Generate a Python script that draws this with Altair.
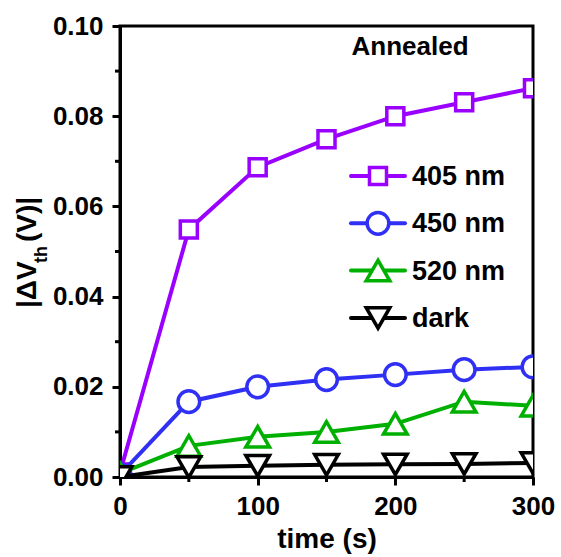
import altair as alt
import pandas as pd

time_s = [0, 50, 100, 150, 200, 250, 300]
v405 = [0.0010, 0.0549, 0.0687, 0.0749, 0.0800, 0.0831, 0.0862]
v450 = [0.0005, 0.0167, 0.0200, 0.0216, 0.0227, 0.0238, 0.0244]
v520 = [0.0008, 0.0069, 0.0089, 0.0100, 0.0118, 0.0167, 0.0158]
vdark = [0.0000, 0.0022, 0.0025, 0.0027, 0.0028, 0.0029, 0.0031]

series_names = ["405 nm", "450 nm", "520 nm", "dark"]
series_vals = [v405, v450, v520, vdark]
series_colors = ["#9900FF", "#3030F5", "#00B000", "#000000"]
series_shapes = ["square", "circle", "triangle-up", "triangle-down"]
series_sizes = [290, 470, 560, 560]

y_ticks = [0.0, 0.02, 0.04, 0.06, 0.08, 0.10]
y_minor = [0.01, 0.03, 0.05, 0.07, 0.09]
x_ticks = [0, 100, 200, 300]
x_minor = [50, 150, 250]

W, H = 413, 451
FONT = "Liberation Sans"

xs = alt.Scale(domain=[0, 300], nice=False, zero=False)
ys = alt.Scale(domain=[0, 0.1], nice=False)

xax = alt.Axis(values=x_ticks, format="d", title="time (s)", titleFontSize=28,
               titlePadding=6, labelPadding=8)
yax = alt.Axis(values=y_ticks, format=".2f", title=None, labelPadding=9)

layers = []
for name, vals, col, shp, sz in zip(series_names, series_vals, series_colors,
                                     series_shapes, series_sizes):
    df = pd.DataFrame({"t": time_s, "v": vals, "s": name})
    base = alt.Chart(df)
    layers.append(base.mark_line(color=col, strokeWidth=4, clip=True).encode(
        x=alt.X("t:Q", scale=xs, axis=xax),
        y=alt.Y("v:Q", scale=ys, axis=yax)))
    layers.append(base.mark_point(shape=shp, size=sz, filled=True, fill="white",
                                  stroke=col, strokeWidth=3.5, opacity=1,
                                  clip=True).encode(
        x=alt.X("t:Q", scale=xs), y=alt.Y("v:Q", scale=ys)))

# minor ticks
ymin_df = pd.DataFrame({"v": y_minor})
layers.append(alt.Chart(ymin_df).mark_rule(color="black", strokeWidth=3).encode(
    y=alt.Y("v:Q", scale=ys), x=alt.value(-5), x2=alt.value(0)))
xmin_df = pd.DataFrame({"t": x_minor})
layers.append(alt.Chart(xmin_df).mark_rule(color="black", strokeWidth=3).encode(
    x=alt.X("t:Q", scale=xs), y=alt.value(H), y2=alt.value(H + 5)))

one = pd.DataFrame({"a": [0]})
# legend
for i, (name, col, shp, sz) in enumerate(zip(series_names, series_colors,
                                             series_shapes, series_sizes)):
    yy = 150 + 47.3 * i
    layers.append(alt.Chart(one).mark_rule(color=col, strokeWidth=4,
                                           strokeCap="round").encode(
        x=alt.value(231), x2=alt.value(285), y=alt.value(yy)))
    layers.append(alt.Chart(one).mark_point(shape=shp, size=sz, filled=True,
                                            fill="white", stroke=col,
                                            strokeWidth=3.5, opacity=1).encode(
        x=alt.value(258), y=alt.value(yy)))
    layers.append(alt.Chart(one).mark_text(text=name, font=FONT, fontWeight="bold",
                                           fontSize=27, align="left",
                                           baseline="middle", color="black").encode(
        x=alt.value(292), y=alt.value(yy + 1)))

# annotation
layers.append(alt.Chart(one).mark_text(text="Annealed", font=FONT, fontWeight="bold",
                                       fontSize=26, align="center",
                                       baseline="alphabetic", color="black").encode(
    x=alt.value(290), y=alt.value(29)))

# y title composed: |ΔV_th (V)|
layers.append(alt.Chart(one).mark_text(text="|ΔV", font=FONT, fontWeight="bold",
                                       fontSize=28, align="left", baseline="middle",
                                       angle=270, color="black").encode(
    x=alt.value(-92), y=alt.value(282)))
layers.append(alt.Chart(one).mark_text(text="th", font=FONT, fontWeight="bold",
                                       fontSize=18, align="left", baseline="middle",
                                       angle=270, color="black").encode(
    x=alt.value(-78), y=alt.value(237)))
layers.append(alt.Chart(one).mark_text(text="(V)|", font=FONT, fontWeight="bold",
                                       fontSize=28, align="left", baseline="middle",
                                       angle=270, color="black").encode(
    x=alt.value(-92), y=alt.value(216)))

chart = alt.layer(*layers).properties(
    width=W, height=H,
    autosize=alt.AutoSizeParams(type="none"),
    padding={"left": 120, "top": 26, "right": 28, "bottom": 80},
    background="white",
).configure_view(stroke="black", strokeWidth=3).configure_axis(
    grid=False, labelFont=FONT, labelFontWeight="bold", labelFontSize=26,
    labelColor="black", domainColor="black", domainWidth=3, tickColor="black",
    tickWidth=3, tickSize=8, titleFont=FONT,
    titleFontWeight="bold", titleColor="black", labelFlush=False,
)

chart.save("out.html", embed_options={"renderer": "svg", "actions": False})
